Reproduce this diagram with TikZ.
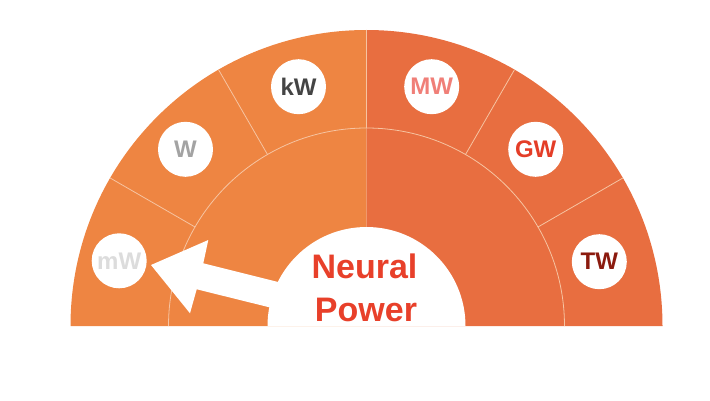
\documentclass[tikz,border=0pt]{standalone}
\usepackage{fontspec}
\setmainfont{Liberation Sans}
\definecolor{leftor}{HTML}{EE8542}
\definecolor{rightor}{HTML}{E86E40}
\definecolor{sepcol}{HTML}{F6C4A2}
\definecolor{nred}{HTML}{E8402A}
\definecolor{cmW}{HTML}{DCDCDC}
\definecolor{cW}{HTML}{A3A3A3}
\definecolor{ckW}{HTML}{444444}
\definecolor{cMW}{HTML}{F07F78}
\definecolor{cGW}{HTML}{E43D27}
\definecolor{cTW}{HTML}{8B1A0E}
\begin{document}
\begin{tikzpicture}[x=1pt,y=1pt,
  sepline/.style={draw=sepcol,line width=0.8pt},
  unit/.style={circle,fill=white,minimum size=55pt,inner sep=0pt,
    font=\bfseries\fontsize{24}{24}\selectfont},
  bigtext/.style={font=\bfseries\fontsize{34}{34}\selectfont,text=nred,anchor=base,inner sep=0pt}]
\useasboundingbox (0,0) rectangle (710,400);
\coordinate (O) at (366.5,74);
% halves
\fill[leftor] (O) -- ++(180:296) arc[start angle=180,end angle=90,radius=296] -- cycle;
\fill[rightor] (O) -- ++(0:296) arc[start angle=0,end angle=90,radius=296] -- cycle;
% separators
\draw[sepline] ([shift={(180:198)}]O) arc[start angle=180,end angle=0,radius=198];
\foreach \a in {30,60,90,120,150}
  \draw[sepline] ([shift={(\a:198)}]O) -- ([shift={(\a:296)}]O);
% arrow
\fill[white] (151,135) -- (208.3,160) -- (203.3,136.7) -- (300,112.5)
  -- (294,86.6) -- (196.7,110.7) -- (190,86.7) -- cycle;
% centre disc
\fill[white] ([shift={(180:99)}]O) arc[start angle=180,end angle=0,radius=99] -- cycle;
% unit circles
\node[unit,text=cmW] (mw) at (119.2,139.2) {mW};
\node[unit,text=cW] (w) at (185.5,250.7) {W};
\node[unit,text=ckW] (kw) at (298.5,313.3) {kW};
\node[unit,text=cMW] (MW) at (431.7,313.3) {MW};
\node[unit,text=cGW] (gw) at (535.7,250.7) {GW};
\node[unit,text=cTW] (tw) at (599.3,138.3) {TW};
% title
\node[bigtext] (neural) at (364.5,121.7) {Neural};
\node[bigtext] (power) at (366,79) {Power};
\end{tikzpicture}
\end{document}
